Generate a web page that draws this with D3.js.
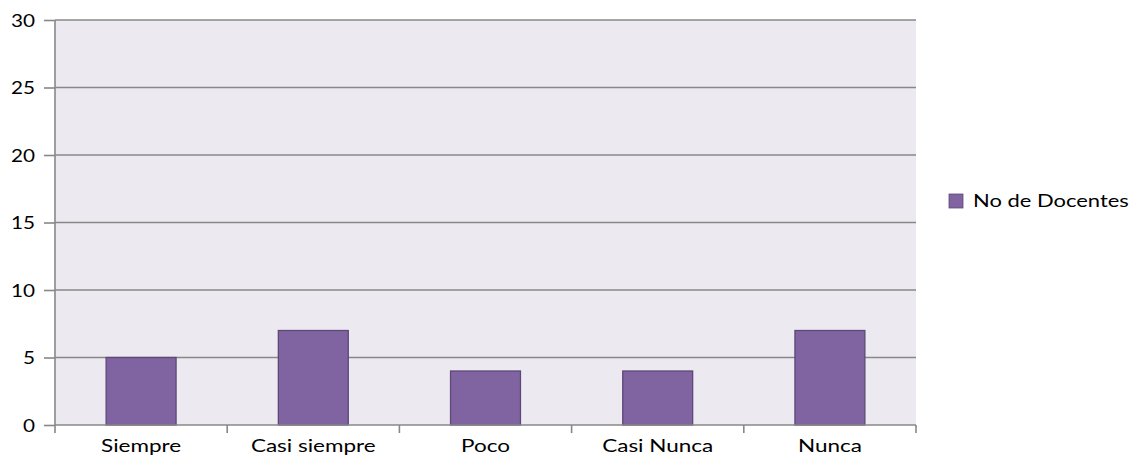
<!DOCTYPE html>
<html><head><meta charset="utf-8">
<script src="https://cdn.jsdelivr.net/npm/d3@7"></script>
<style>body{margin:0;background:#fff}svg{display:block}</style>
</head><body>
<script>
const categories = ["Siempre","Casi siempre","Poco","Casi Nunca","Nunca"];
const values = [5,7,4,4,7];
const seriesName = "No de Docentes";
const yTicks = [0,5,10,15,20,25,30];

const W=1131,H=457;
const m={l:55,r:916,t:20,b:425};
const svg=d3.select("body").append("svg").attr("width",W).attr("height",H);
const x=d3.scaleBand().domain(categories).range([m.l,m.r]).paddingInner(0.594).paddingOuter(0.297);
const xb=d3.scaleBand().domain(categories).range([m.l,m.r]);
const y=d3.scaleLinear().domain([0,30]).range([m.b,m.t]);
const font="Lato, 'Open Sans', sans-serif";
const gridCol="#888888";

svg.append("rect").attr("x",m.l).attr("y",m.t).attr("width",m.r-m.l).attr("height",m.b-m.t).attr("fill","#ECE9F1");
// gridlines
svg.append("g").selectAll("line").data(yTicks.filter(d=>d>0)).join("line")
  .attr("x1",m.l).attr("x2",m.r).attr("y1",d=>y(d)).attr("y2",d=>y(d))
  .attr("stroke",gridCol).attr("stroke-width",1.6);
// bars
svg.append("g").selectAll("rect").data(values).join("rect")
  .attr("x",(d,i)=>x(categories[i])).attr("width",x.bandwidth())
  .attr("y",d=>y(d)).attr("height",d=>y(0)-y(d))
  .attr("fill","#8064A2").attr("stroke","#5D4878").attr("stroke-width",1.3);
// y axis
const ya=svg.append("g").attr("transform",`translate(${m.l},0)`)
  .call(d3.axisLeft(y).tickValues(yTicks).tickSize(11).tickPadding(9));
ya.select(".domain").attr("stroke",gridCol).attr("stroke-width",1.6).attr("d",`M0,${m.t}V${m.b}`);
ya.selectAll(".tick line").attr("stroke",gridCol).attr("stroke-width",1.6);
ya.selectAll(".tick text").attr("x",0).attr("dy","0.36em")
  .attr("transform","translate(-20,0) scale(1.15,1)")
  .attr("font-family",font).attr("font-size",18).attr("fill","#000");
// x axis
const xa=svg.append("g").attr("transform",`translate(0,${m.b})`)
  .call(d3.axisBottom(xb).tickSize(0));
xa.select(".domain").attr("stroke",gridCol).attr("stroke-width",1.6).attr("d",`M${m.l},0H${m.r}`);
xa.selectAll(".tick text").attr("y",27).attr("dy",0).attr("transform","scale(1.25,1)")
  .attr("font-family",font).attr("font-size",18).attr("fill","#000");
xa.append("g").selectAll("line").data(d3.range(categories.length+1)).join("line")
  .attr("x1",i=>m.l+i*xb.step()).attr("x2",i=>m.l+i*xb.step()).attr("y1",0).attr("y2",8)
  .attr("stroke",gridCol).attr("stroke-width",1.6);
// legend
const lg=svg.append("g").attr("transform","translate(949,194)");
lg.append("rect").attr("width",14).attr("height",14).attr("fill","#8064A2").attr("stroke","#5D4878").attr("stroke-width",0.8);
lg.append("text").attr("transform","translate(24,13) scale(1.22,1)").attr("font-family",font).attr("font-size",18).attr("fill","#000").text(seriesName);
</script>
</body></html>
